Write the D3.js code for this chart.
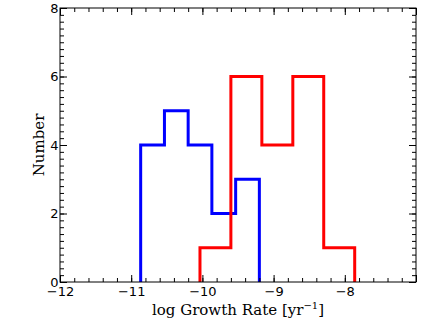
<!DOCTYPE html>
<html>
<head>
<meta charset="utf-8">
<script src="https://cdn.jsdelivr.net/npm/d3@7"></script>
<style>
  body { margin: 0; background: #fff; }
  svg { display: block; }
</style>
</head>
<body>
<div id="chart"></div>
<script>
// bin edges and counts
blueEdges = [-10.867, -10.533, -10.2, -9.867, -9.533, -9.2];
blueCounts = [4, 5, 4, 2, 3];
redEdges = [-10.034, -9.6, -9.165, -8.73, -8.296, -7.861];
redCounts = [1, 6, 4, 6, 1];

xTicks = [-12, -11, -10, -9, -8, -7];
yTicks = [0, 2, 4, 6, 8];

const W = 431, H = 323;
const pLeft = 60, pTop = 8, pRight = 416, pBottom = 282;

const x = d3.scaleLinear().domain([-12, -7]).range([pLeft, pRight]);
const y = d3.scaleLinear().domain([0, 8]).range([pBottom, pTop]);

const svg = d3.select("#chart").append("svg")
  .attr("width", W)
  .attr("height", H);

svg.append("rect")
  .attr("width", W).attr("height", H)
  .attr("fill", "#fff");

// turn edges + counts into a step outline
function steps(edges, counts) {
  let pts = [[edges[0], 0]];
  counts.forEach((c, i) => {
    pts.push([edges[i], c]);
    pts.push([edges[i + 1], c]);
  });
  pts.push([edges[edges.length - 1], 0]);
  return pts;
}

const line = d3.line().x(d => x(d[0])).y(d => y(d[1]));

svg.append("path")
  .attr("d", line(steps(blueEdges, blueCounts)))
  .attr("fill", "none")
  .attr("stroke", "#0000ff")
  .attr("stroke-width", 3)
  .attr("stroke-linejoin", "miter");

svg.append("path")
  .attr("d", line(steps(redEdges, redCounts)))
  .attr("fill", "none")
  .attr("stroke", "#ff0000")
  .attr("stroke-width", 3)
  .attr("stroke-linejoin", "miter");

// minor ticks every 0.2
const xMinor = d3.range(0, 26).map(i => -12 + i * 0.2);
const yMinor = d3.range(0, 41).map(i => i * 0.2);

function ticks(axis, vals, size, tx, ty, labels) {
  const g = svg.append("g")
    .attr("transform", `translate(${tx},${ty})`)
    .call(axis.tickValues(vals).tickSizeInner(-size).tickSizeOuter(0)
      .tickFormat(labels ? d3.format("d") : ""));
  g.select(".domain").remove();
  g.selectAll(".tick line").attr("stroke", "#000").attr("stroke-width", 1);
  return g;
}

ticks(d3.axisBottom(x), xMinor, 4, 0, pBottom, false);
ticks(d3.axisTop(x), xMinor, 4, 0, pTop, false);
ticks(d3.axisLeft(y), yMinor, 4, pLeft, 0, false);
ticks(d3.axisRight(y), yMinor, 4, pRight, 0, false);

const gx = ticks(d3.axisBottom(x).tickPadding(4.5), xTicks, 7, 0, pBottom, true);
ticks(d3.axisTop(x), xTicks, 7, 0, pTop, false);
const gy = ticks(d3.axisLeft(y).tickPadding(1.5), yTicks, 7, pLeft, 0, true);
ticks(d3.axisRight(y), yTicks, 7, pRight, 0, false);

gx.selectAll("text").attr("font-family", "DejaVu Sans").attr("font-size", 13).attr("fill", "#000");
gy.selectAll("text").attr("font-family", "DejaVu Sans").attr("font-size", 13).attr("fill", "#000");
// the rightmost label is not shown
gx.selectAll(".tick").filter(d => d === -7).select("text").remove();

// frame
svg.append("rect")
  .attr("x", pLeft).attr("y", pTop)
  .attr("width", pRight - pLeft).attr("height", pBottom - pTop)
  .attr("fill", "none")
  .attr("stroke", "#000")
  .attr("stroke-width", 1);

svg.append("text")
  .attr("transform", `translate(44,${(pTop + pBottom) / 2}) rotate(-90)`)
  .attr("text-anchor", "middle")
  .attr("font-family", "DejaVu Serif")
  .attr("font-size", 15)
  .text("Number");

const xl = svg.append("text")
  .attr("x", (pLeft + pRight) / 2)
  .attr("y", 315)
  .attr("text-anchor", "middle")
  .attr("font-family", "DejaVu Serif")
  .attr("font-size", 15);
xl.append("tspan").text("log Growth Rate [yr");
xl.append("tspan").attr("font-size", 10).attr("dy", -6).text("−1");
xl.append("tspan").attr("dy", 6).text("]");
</script>
</body>
</html>
